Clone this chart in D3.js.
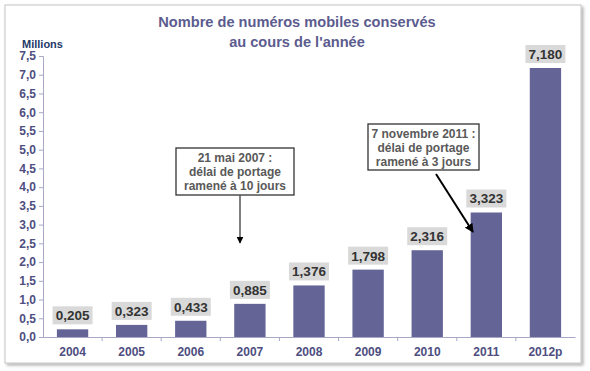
<!DOCTYPE html>
<html><head><meta charset="utf-8">
<script src="https://cdn.jsdelivr.net/npm/d3@7"></script>
<style>
html,body{margin:0;padding:0;background:#fff;}
svg text{font-family:"Liberation Sans",Arial,sans-serif;}
</style></head>
<body>
<svg id="c" width="590" height="371"></svg>
<script>
const categories = ["2004","2005","2006","2007","2008","2009","2010","2011","2012p"];
const values = [0.205,0.323,0.433,0.885,1.376,1.798,2.316,3.323,7.180];
const valueLabels = ["0,205","0,323","0,433","0,885","1,376","1,798","2,316","3,323","7,180"];
const yTicks = [0,0.5,1,1.5,2,2.5,3,3.5,4,4.5,5,5.5,6,6.5,7,7.5];
const titleLines = ["Nombre de numéros mobiles conservés","au cours de l'année"];
const unitLabel = "Millions";
const notes = [
  {cat:"2007", lines:["21 mai 2007 :","délai de portage","ramené à 10 jours"]},
  {cat:"2011", lines:["7 novembre 2011 :","délai de portage","ramené à 3 jours"]}
];

const svg = d3.select("#c");
const defs = svg.append("defs");
const f = defs.append("filter").attr("id","sh").attr("x","-5%").attr("y","-5%").attr("width","110%").attr("height","115%");
f.append("feDropShadow").attr("dx",2).attr("dy",2).attr("stdDeviation",1.5).attr("flood-color","#000").attr("flood-opacity",0.3);
defs.append("marker").attr("id","ah").attr("viewBox","0 0 10 10").attr("refX",9).attr("refY",5)
  .attr("markerWidth",4.5).attr("markerHeight",4.5).attr("orient","auto")
  .append("path").attr("d","M0,0L10,5L0,10z").attr("fill","#000");

svg.append("rect").attr("x",5).attr("y",5).attr("width",576).attr("height",358)
  .attr("fill","#fff").attr("stroke","#c4c4c4").attr("filter","url(#sh)");

const x0 = 43, x1 = 575, yBottom = 337, yTop = 56;
const x = d3.scaleBand().domain(categories).range([x0,x1]).paddingInner(0.47).paddingOuter(0.235);
const xb = d3.scaleBand().domain(categories).range([x0,x1]);
const y = d3.scaleLinear().domain([0,7.5]).range([yBottom,yTop]);

const tickColor = "#4e4e80";
// title
svg.append("text").attr("x",297).attr("y",0).attr("text-anchor","middle")
  .attr("font-size",14.6).attr("font-weight","bold").attr("fill","#5c5c8e")
  .selectAll("tspan").data(titleLines).join("tspan")
  .attr("x",297).attr("y",(d,i)=>27+i*20).text(d=>d);

svg.append("text").attr("x",22).attr("y",48).attr("font-size",11).attr("font-weight","bold")
  .attr("fill","#1f3a68").text(unitLabel);

// y axis
const yAxis = d3.axisLeft(y).tickValues(yTicks).tickSize(4).tickPadding(3)
  .tickFormat(d=>d3.format(".1f")(d).replace(".",","));
const gy = svg.append("g").attr("transform",`translate(${x0},0)`).call(yAxis);
gy.select(".domain").attr("stroke","#a8a8c4");
gy.selectAll(".tick line").attr("stroke","#a8a8c4");
gy.selectAll(".tick text").attr("font-size",12).attr("font-weight","bold").attr("fill",tickColor)
  .attr("font-family","Liberation Sans, Arial, sans-serif");

// bars
svg.append("g").selectAll("rect").data(values).join("rect")
  .attr("x",(d,i)=>x(categories[i])).attr("width",x.bandwidth())
  .attr("y",d=>y(d)).attr("height",d=>y(0)-y(d)).attr("fill","#646497");

// x axis
const xAxis = d3.axisBottom(xb).tickSize(0).tickPadding(10);
const gx = svg.append("g").attr("transform",`translate(0,${yBottom})`).call(xAxis);
gx.select(".domain").attr("stroke","#a8a8c4");
gx.selectAll(".tick text").attr("font-size",12).attr("font-weight","bold").attr("fill",tickColor)
  .attr("font-family","Liberation Sans, Arial, sans-serif");
gx.selectAll(".bnd").data(categories.slice(1)).join("line").attr("class","bnd")
  .attr("x1",d=>xb(d)).attr("x2",d=>xb(d)).attr("y1",0).attr("y2",4).attr("stroke","#a8a8c4");

// value labels
const lg = svg.append("g").selectAll("g").data(values).join("g")
  .attr("transform",(d,i)=>`translate(${x(categories[i])+x.bandwidth()/2},${y(d)-5})`);
lg.append("rect").attr("x",-20).attr("y",-18).attr("width",40).attr("height",18).attr("fill","#d9d9d9");
lg.append("text").attr("text-anchor","middle").attr("y",-4).attr("font-size",13.5).attr("font-weight","bold")
  .attr("fill","#333").text((d,i)=>valueLabels[i]);

// annotations
const boxes = [
  {x:176,y:148,w:118,h:47, ax1:[240,195], ax2:[240,243]},
  {x:368,y:124,w:111,h:46, ax1:[436,174], ax2:[473,232]}
];
notes.forEach((n,k)=>{
  const b = boxes[k];
  svg.append("rect").attr("x",b.x).attr("y",b.y).attr("width",b.w).attr("height",b.h)
    .attr("fill","#fff").attr("stroke","#333").attr("stroke-width",1.3);
  svg.append("text").attr("text-anchor","middle").attr("font-size",12).attr("font-weight","bold").attr("fill","#595959")
    .selectAll("tspan").data(n.lines).join("tspan")
    .attr("x",b.x+b.w/2).attr("y",(d,i)=>b.y+14+i*14).text(d=>d);
  svg.append("line").attr("x1",b.ax1[0]).attr("y1",b.ax1[1]).attr("x2",b.ax2[0]).attr("y2",b.ax2[1])
    .attr("stroke",k===0?"#555":"#000").attr("stroke-width",k===0?1.5:2).attr("marker-end","url(#ah)");
});
</script>
</body></html>
